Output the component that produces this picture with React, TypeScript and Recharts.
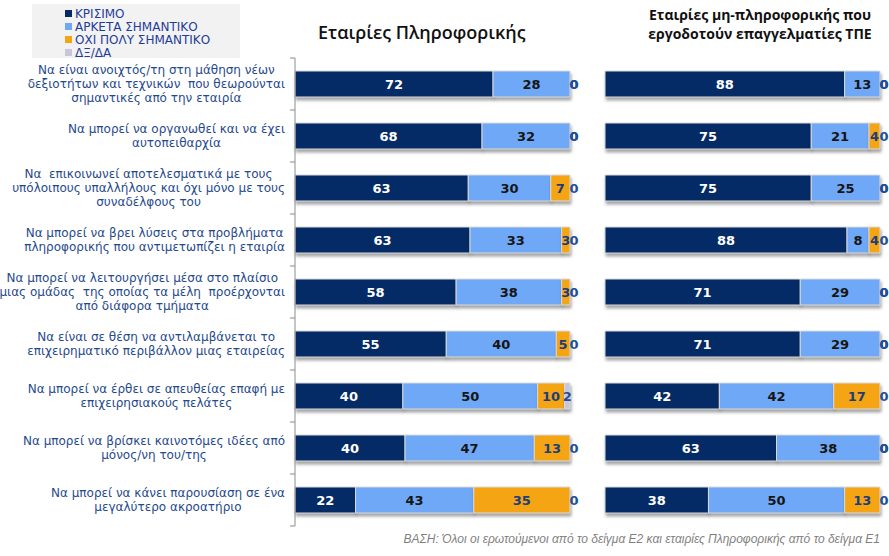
import React from "react"
import { BarChart, Bar, XAxis, YAxis, LabelList } from "recharts"

const categories = [
  "Να είναι ανοιχτός/τη στη μάθηση νέων\nδεξιοτήτων και τεχνικών  που θεωρούνται\nσημαντικές από την εταιρία",
  "Να μπορεί να οργανωθεί και να έχει\nαυτοπειθαρχία",
  "Να  επικοινωνεί αποτελεσματικά με τους\nυπόλοιπους υπαλλήλους και όχι μόνο με τους\nσυναδέλφους του",
  "Να μπορεί να βρει λύσεις στα προβλήματα\nπληροφορικής που αντιμετωπίζει η εταιρία",
  "Να μπορεί να λειτουργήσει μέσα στο πλαίσιο\nμιας ομάδας  της οποίας τα μέλη  προέρχονται\nαπό διάφορα τμήματα",
  "Να είναι σε θέση να αντιλαμβάνεται το\nεπιχειρηματικό περιβάλλον μιας εταιρείας",
  "Να μπορεί να έρθει σε απευθείας επαφή με\nεπιχειρησιακούς πελάτες",
  "Να μπορεί να βρίσκει καινοτόμες ιδέες από\nμόνος/νη του/της",
  "Να μπορεί να κάνει παρουσίαση σε ένα\nμεγαλύτερο ακροατήριο",
]

const seriesNames = ["ΚΡΙΣΙΜΟ", "ΑΡΚΕΤΑ ΣΗΜΑΝΤΙΚΟ", "ΟΧΙ ΠΟΛΥ ΣΗΜΑΝΤΙΚΟ", "ΔΞ/ΔΑ"]

// Εταιρίες Πληροφορικής
const itCritical = [72, 68, 63, 63, 58, 55, 40, 40, 22]
const itQuite = [28, 32, 30, 33, 38, 40, 50, 47, 43]
const itNotMuch = [0, 0, 7, 3, 3, 5, 10, 13, 35]
const itDk = [0, 0, 0, 0, 0, 0, 2, 0, 0]

// Εταιρίες μη-πληροφορικής
const nonCritical = [88, 75, 75, 88, 71, 71, 42, 63, 38]
const nonQuite = [13, 21, 25, 8, 29, 29, 42, 38, 50]
const nonNotMuch = [0, 4, 0, 4, 0, 0, 17, 0, 13]
const nonDk = [0, 0, 0, 0, 0, 0, 0, 0, 0]

const buildRows = (a: number[], b: number[], c: number[], d: number[]) =>
  categories.map((label, i) => ({ label, critical: a[i], quite: b[i], notMuch: c[i], dk: d[i] }))

const itData = buildRows(itCritical, itQuite, itNotMuch, itDk)
const nonData = buildRows(nonCritical, nonQuite, nonNotMuch, nonDk)

const COLORS = ["#042B65", "#6FA8F6", "#F5A513", "#C9C5DD"]
const LABEL_COLORS = ["#ffffff", "#151515", "#1F3D7A", "#1F4E9A"]
const KEYS = ["critical", "quite", "notMuch", "dk"]

const TOP = 58
const PLOT_H = 468
const BAND = PLOT_H / categories.length

let ctx: CanvasRenderingContext2D | null = null
const measure = (s: string) => {
  if (!ctx) {
    ctx = document.createElement("canvas").getContext("2d")
    if (ctx) ctx.font = '12px "DejaVu Sans"'
  }
  return ctx ? ctx.measureText(s).width : s.length * 7
}

const CategoryTick = (props: any) => {
  const { x, y, payload, index } = props
  const lines: string[] = String(payload.value).split("\n")
  const w = Math.max(...lines.map(measure))
  const cx = x - 2 - w / 2
  const lh = 14
  const startY = y - ((lines.length - 1) * lh) / 2
  const axisX = x + 8
  return (
    <g>
      <line x1={axisX - 5} x2={axisX} y1={y - BAND / 2} y2={y - BAND / 2} stroke="#8c8c8c" />
      {index === categories.length - 1 && (
        <line x1={axisX - 5} x2={axisX} y1={y + BAND / 2} y2={y + BAND / 2} stroke="#8c8c8c" />
      )}
      <text textAnchor="middle" fontFamily="DejaVu Sans" fontSize={12} fill="#1F4A8E" style={{ whiteSpace: "pre" }}>
        {lines.map((l, i) => (
          <tspan key={i} x={cx} y={startY + i * lh} dy="0.35em">
            {l}
          </tspan>
        ))}
      </text>
    </g>
  )
}

const valueText = (x: number, y: number, value: any, color: string, key: string) => (
  <text
    key={key}
    x={x}
    y={y}
    dy="0.36em"
    textAnchor="middle"
    fill={color}
    fontFamily="DejaVu Sans"
    fontWeight="bold"
    fontSize={13}
  >
    {value}
  </text>
)

// recharts skips zero-width segments, so the last visible segment also
// prints the "0" labels of the empty segments that follow it
const makeLabel = (seriesIdx: number, data: any[]) => (p: any) => {
  const { x, y, width, height, value } = p
  const row = data.find((r) => r.label === value)
  if (!row) return null
  const cy = Number(y) + Number(height) / 2
  const end = Number(x) + Number(width)
  const out = [valueText(Number(x) + Number(width) / 2, cy, row[KEYS[seriesIdx]], LABEL_COLORS[seriesIdx], "v")]
  if (seriesIdx >= 1) {
    for (let j = seriesIdx + 1; j < KEYS.length; j++) {
      if (row[KEYS[j]] !== 0) break
      out.push(valueText(end + 4, cy, 0, LABEL_COLORS[j], "z" + j))
    }
  }
  return <g>{out}</g>
}

const renderBars = (data: any[]) =>
  KEYS.map((k, i) => (
    <Bar
      key={k}
      dataKey={k}
      name={seriesNames[i]}
      stackId="a"
      fill={COLORS[i]}
      stroke="#DADADA"
      strokeWidth={1}
      isAnimationActive={false}
    >
      <LabelList dataKey={(r: any) => r.label} content={makeLabel(i, data)} />
    </Bar>
  ))

export default function App() {
  return (
    <div style={{ position: "absolute", left: 0, top: 0, width: 889, height: 556, background: "#fff", overflow: "hidden" }}>
      <style>{`.recharts-bar-rectangles { filter: drop-shadow(1px 3px 1.5px rgba(0,0,0,0.35)); }`}</style>
      <div style={{ position: "absolute", left: 32, top: 4, width: 208, height: 54, background: "#F2F2F2", padding: "3px 0 0 33px", boxSizing: "border-box" }}>
        {seriesNames.map((n, i) => (
          <div key={n} style={{ display: "flex", alignItems: "center", height: 13, fontFamily: "DejaVu Sans", fontSize: 12, color: "#1F3D99", whiteSpace: "nowrap" }}>
            <span style={{ width: 7, height: 7, background: COLORS[i], marginRight: 3, display: "inline-block" }} />
            {n}
          </div>
        ))}
      </div>
      <div style={{ position: "absolute", left: 318, top: 20, fontFamily: "Open Sans", fontWeight: 600, fontSize: 18, color: "#111" }}>
        Εταιρίες Πληροφορικής
      </div>
      <div style={{ position: "absolute", left: 620, top: 5, width: 280, textAlign: "center", fontFamily: "Open Sans", fontWeight: 700, fontSize: 14, lineHeight: "19px", color: "#111" }}>
        Εταιρίες μη-πληροφορικής που
        <br />
        εργοδοτούν επαγγελματίες ΤΠΕ
      </div>
      <div style={{ position: "absolute", left: 0, top: 0 }}>
        <BarChart
          width={580}
          height={556}
          data={itData}
          layout="vertical"
          stackOffset="expand"
          barCategoryGap="25%"
          margin={{ top: TOP, bottom: 556 - TOP - PLOT_H, left: 0, right: 10 }}
        >
          <XAxis type="number" hide />
          <YAxis
            type="category"
            dataKey="label"
            width={295}
            axisLine={{ stroke: "#8c8c8c" }}
            tickLine={false}
            tickSize={0}
            tickMargin={8}
            interval={0}
            tick={<CategoryTick />}
          />
          {renderBars(itData)}
        </BarChart>
      </div>
      <div style={{ position: "absolute", left: 600, top: 0 }}>
        <BarChart
          width={289}
          height={556}
          data={nonData}
          layout="vertical"
          stackOffset="expand"
          barCategoryGap="25%"
          margin={{ top: TOP, bottom: 556 - TOP - PLOT_H, left: 5, right: 9 }}
        >
          <XAxis type="number" hide />
          <YAxis type="category" dataKey="label" hide />
          {renderBars(nonData)}
        </BarChart>
      </div>
      <div style={{ position: "absolute", right: 9, top: 532, fontFamily: "Liberation Sans", fontStyle: "italic", fontSize: 12, color: "#7F7F7F" }}>
        ΒΑΣΗ: Όλοι οι ερωτούμενοι από το δείγμα Ε2 και εταιρίες Πληροφορικής από το δείγμα Ε1
      </div>
    </div>
  )
}
